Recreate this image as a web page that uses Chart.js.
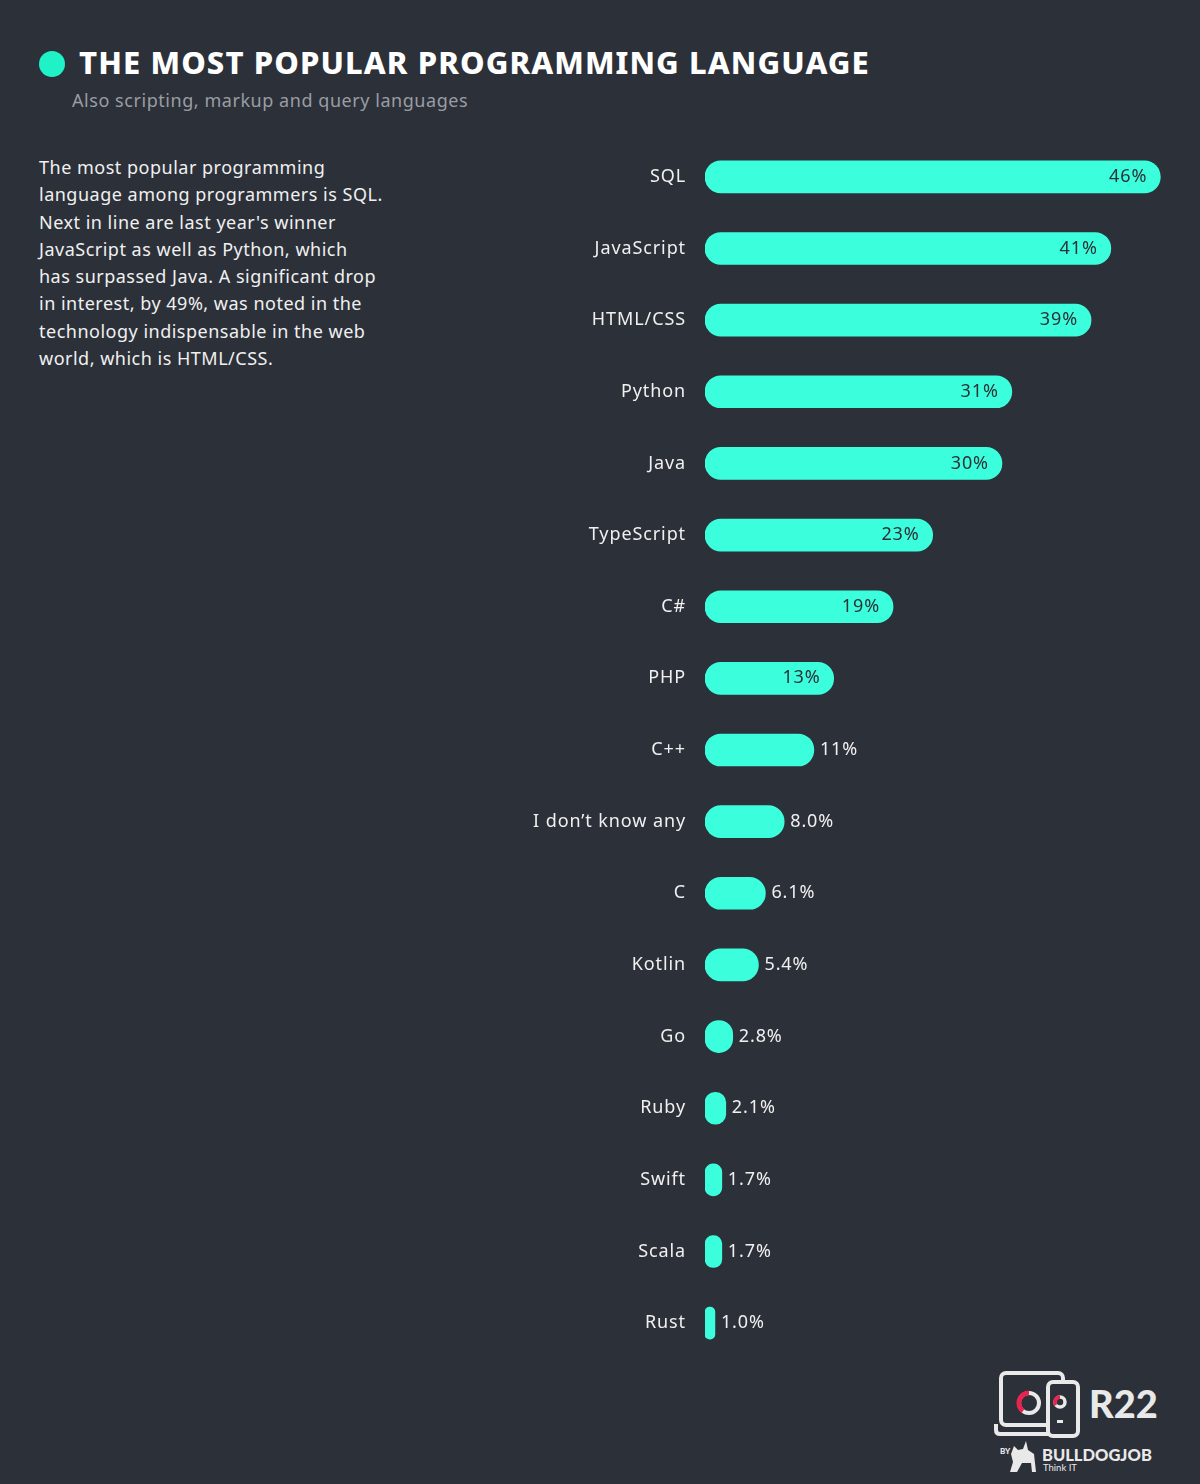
<!DOCTYPE html>
<html>
<head>
    <title>The Most Popular Programming Language</title>
    <script src="https://cdn.jsdelivr.net/npm/chart.js"></script>
    <style>
        html, body { margin: 0; padding: 0; }
        body {
            width: 1200px; height: 1484px; background: #2c3039;
            position: relative; overflow: hidden;
            font-family: "Noto Sans", Lato, sans-serif; color: #f0f0f0;
        }
        .dot { position: absolute; left: 39px; top: 51px; width: 26px; height: 26px; border-radius: 50%; background: #1ff2c6; }
        h1 { position: absolute; left: 79px; top: 41px; margin: 0; font-size: 31px; font-weight: 800; color: #fff; letter-spacing: 1.1px; white-space: nowrap; }
        .sub { position: absolute; left: 72px; top: 88px; font-size: 18px; letter-spacing: 0.55px; color: #9a9da3; white-space: nowrap; }
        .text { position: absolute; left: 39px; top: 154px; font-size: 18px; letter-spacing: 0.5px; line-height: 27.3px; color: #f0f0f0; white-space: nowrap; }
        #chart-wrap { position: absolute; left: 400px; top: 141px; width: 790px; height: 1218px; }
        .logo { position: absolute; left: 990px; top: 1366px; }
    </style>
</head>
<body>
    <div class="dot"></div>
    <h1>THE MOST POPULAR PROGRAMMING LANGUAGE</h1>
    <div class="sub">Also scripting, markup and query languages</div>
    <div class="text">
        The most popular programming<br>
        language among programmers is SQL.<br>
        Next in line are last year's winner<br>
        JavaScript as well as Python, which<br>
        has surpassed Java. A significant drop<br>
        in interest, by 49%, was noted in the<br>
        technology indispensable in the web<br>
        world, which is HTML/CSS.
    </div>
    <div id="chart-wrap"><canvas id="chart"></canvas></div>

    <svg class="logo" width="190" height="110" viewBox="0 0 190 110">
        <!-- laptop -->
        <rect x="11" y="7" width="62" height="52" rx="5" fill="none" stroke="#e9e9e9" stroke-width="4"/>
        <path d="M6 58 L6 64 Q6 68 10 68 L60 68" fill="none" stroke="#e9e9e9" stroke-width="4"/>
        <!-- phone -->
        <rect x="58" y="16" width="30" height="54" rx="5" fill="#2c3039" stroke="#e9e9e9" stroke-width="4"/>
        <rect x="67" y="54" width="6" height="3" fill="#e9e9e9"/>
        <circle cx="39" cy="37" r="10" fill="none" stroke="#e9e9e9" stroke-width="4"/>
        <path d="M39 27 A10 10 0 0 0 33 45" fill="none" stroke="#e8234f" stroke-width="5"/>
        <circle cx="70" cy="36" r="5" fill="none" stroke="#e9e9e9" stroke-width="3.5"/>
        <path d="M70 31 A5 5 0 0 0 66 39" fill="none" stroke="#e8234f" stroke-width="3.5"/>
        <text x="99" y="52" font-family="Lato, sans-serif" font-weight="900" font-size="38" fill="#e9e9e9">R22</text>
        <!-- bulldog job -->
        <text x="10" y="88" font-family="Lato, sans-serif" font-weight="900" font-size="8" fill="#e9e9e9">BY</text>
        <path d="M20 106 L23 96 L21 88 L24 80 L28 84 L33 83 L36 75 L38 84 L44 88 L46 106 L42 106 L41 97 L32 97 L27 106 Z" fill="#e9e9e9"/>
        <text x="52" y="95" font-family="Lato, sans-serif" font-weight="900" font-size="16.5" fill="#e9e9e9">BULLDOGJOB</text>
        <text x="53" y="104.5" font-family="Lato, sans-serif" font-size="9.5" fill="#e9e9e9">Think IT</text>
    </svg>

    <script>
        // Data
        const languages = ['SQL', 'JavaScript', 'HTML/CSS', 'Python', 'Java', 'TypeScript', 'C#', 'PHP',
            'C++', "I don\u2019t know any", 'C', 'Kotlin', 'Go', 'Ruby', 'Swift', 'Scala', 'Rust'];
        const shares = [46, 41, 39, 31, 30, 23, 19, 13, 11, 8.0, 6.1, 5.4, 2.8, 2.1, 1.7, 1.7, 1.0];
        const shareLabels = ['46%', '41%', '39%', '31%', '30%', '23%', '19%', '13%', '11%', '8.0%',
            '6.1%', '5.4%', '2.8%', '2.1%', '1.7%', '1.7%', '1.0%'];
        const insideMin = 12; // labels go inside the bar from this value up

        const barColor = '#3bffdc';
        const fontFamily = '"Noto Sans", Lato, sans-serif';

        // Slightly wider text, closer to the original typeface
        const spacing = {
            id: 'spacing',
            beforeDraw(chart) { chart.ctx.letterSpacing = '0.9px'; }
        };

        // Draw the value labels, inside big bars and after small ones
        const valueLabels = {
            id: 'valueLabels',
            afterDatasetsDraw(chart) {
                const ctx = chart.ctx;
                const meta = chart.getDatasetMeta(0);
                ctx.save();
                ctx.font = '18px ' + fontFamily;
                ctx.letterSpacing = '0.9px';
                ctx.textBaseline = 'middle';
                meta.data.forEach((bar, i) => {
                    if (shares[i] >= insideMin) {
                        ctx.fillStyle = '#2c3039';
                        ctx.textAlign = 'right';
                        ctx.fillText(shareLabels[i], bar.x - 13, bar.y);
                    } else {
                        ctx.fillStyle = '#f0f0f0';
                        ctx.textAlign = 'left';
                        ctx.fillText(shareLabels[i], bar.x + 6, bar.y);
                    }
                });
                ctx.restore();
            }
        };

        new Chart(document.getElementById('chart'), {
            type: 'bar',
            data: {
                labels: languages,
                datasets: [{
                    data: shares,
                    backgroundColor: barColor,
                    borderRadius: 16,
                    borderSkipped: false,
                    barThickness: 32
                }]
            },
            options: {
                indexAxis: 'y',
                responsive: true,
                maintainAspectRatio: false,
                animation: false,
                layout: { padding: 0 },
                plugins: {
                    legend: { display: false },
                    tooltip: { enabled: false }
                },
                scales: {
                    x: {
                        display: false,
                        min: 0,
                        max: 49
                    },
                    y: {
                        grid: { display: false, drawTicks: false },
                        border: { display: false },
                        afterFit: scale => {
                            scale.width = 305;
                            scale.paddingTop = 0;
                            scale.paddingBottom = 0;
                        },
                        ticks: {
                            color: '#f0f0f0',
                            padding: 19,
                            font: { family: fontFamily, size: 18 }
                        }
                    }
                }
            },
            plugins: [spacing, valueLabels]
        });
    </script>
</body>
</html>
